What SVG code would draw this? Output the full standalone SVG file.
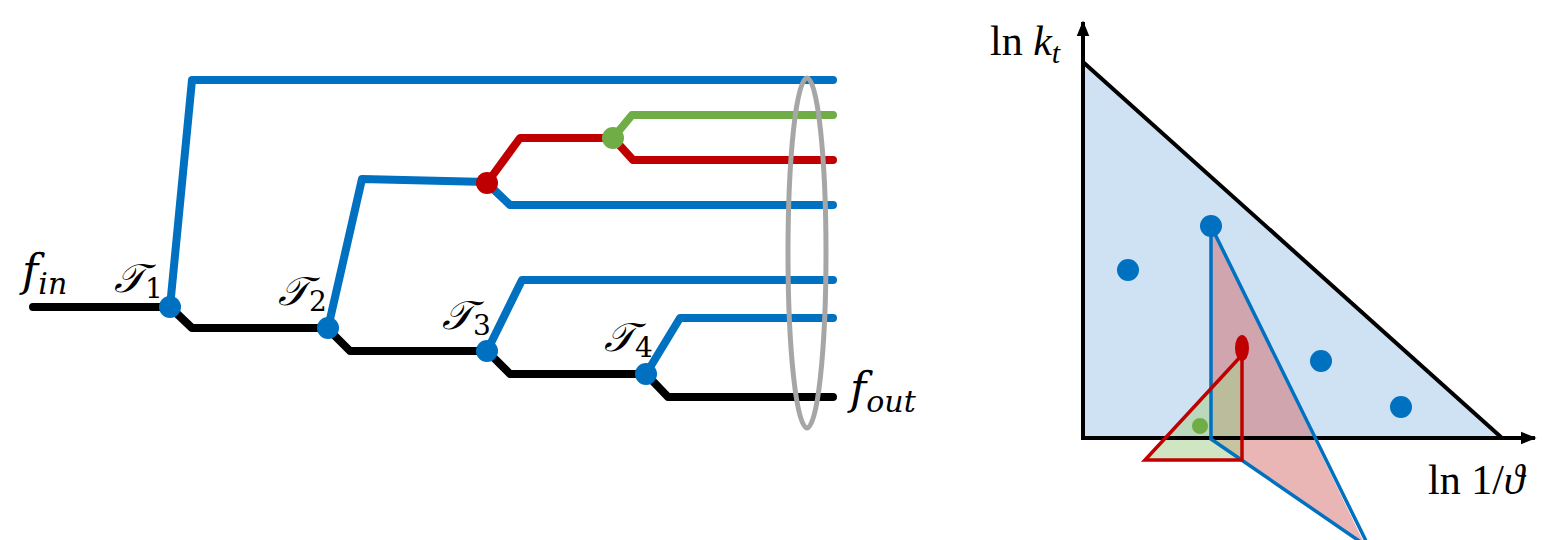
<svg xmlns="http://www.w3.org/2000/svg" width="1546" height="540" viewBox="0 0 1546 540">
<defs>
<style>
.ln{fill:none;stroke-width:8;stroke-linecap:round;stroke-linejoin:round}
.bk{stroke:#000}
.bl{stroke:#0070c0}
.rd{stroke:#c00000}
.gr{stroke:#70ad47}
.t{font-family:"DejaVu Serif","Liberation Serif",serif;font-style:italic;fill:#000}
.m{font-family:"Liberation Serif","DejaVu Serif",serif;fill:#000}
</style>
<marker id="ah" viewBox="0 0 10 10" refX="9" refY="5" markerWidth="4" markerHeight="4" orient="auto" markerUnits="strokeWidth"><path d="M0,1 L10,5 L0,9 z" fill="#000"/></marker>
</defs>
<g id="connectors">
<path class="ln bk" d="M33,307 H170 L192,328 H327 L350,351 H487 L510,374 H646 L668,397 H833"/>
<path class="ln bl" d="M170,307 L192,80 H833"/>
<path class="ln bl" d="M328,328 L362,179 L487,182"/>
<path class="ln bl" d="M487,183 L510,205 H833"/>
<path class="ln rd" d="M487,183 L520,138 H612"/>
<path class="ln gr" d="M613,138 L632,115 H833"/>
<path class="ln rd" d="M613,138 L633,160 H833"/>
<path class="ln bl" d="M487,351 L522,280 H833"/>
<path class="ln bl" d="M646,374 L680,318 H833"/>
</g>
<g id="ellipse"><ellipse cx="807" cy="253" rx="19" ry="175" fill="none" stroke="#a6a6a6" stroke-width="5"/></g>
<g id="T1"><circle cx="170" cy="307" r="11" fill="#0070c0"/><text class="t" x="114" y="292" font-size="40">𝒯<tspan font-style="normal" font-size="28" dy="6">1</tspan></text></g>
<g id="T2"><circle cx="328" cy="328" r="11" fill="#0070c0"/><text class="t" x="278" y="305" font-size="40">𝒯<tspan font-style="normal" font-size="28" dy="6">2</tspan></text></g>
<g id="T3"><circle cx="487" cy="351" r="11" fill="#0070c0"/><text class="t" x="442" y="329" font-size="40">𝒯<tspan font-style="normal" font-size="28" dy="6">3</tspan></text></g>
<g id="T4"><circle cx="646" cy="374" r="11" fill="#0070c0"/><text class="t" x="604" y="351" font-size="40">𝒯<tspan font-style="normal" font-size="28" dy="6">4</tspan></text></g>
<g id="redNode"><circle cx="487" cy="183" r="11" fill="#c00000"/></g>
<g id="greenNode"><circle cx="613" cy="138" r="11" fill="#70ad47"/></g>
<g id="fin"><text class="t" x="22" y="286" font-size="44">f<tspan font-size="30" dy="8">in</tspan></text></g>
<g id="fout"><text class="t" x="850" y="404" font-size="44">f<tspan font-size="30" dy="8">out</tspan></text></g>
<g id="plot">
<polygon points="1083,62 1083,438 1502,438" fill="#cfe2f3"/>
<line x1="1083" y1="62" x2="1502" y2="438" stroke="#000" stroke-width="4"/>
<polygon points="1211,226 1211,439 1365,545" fill="#d05a5a" fill-opacity="0.45"/>
<polygon points="1242,355 1145,460 1242,460" fill="#a9d08e" fill-opacity="0.55"/>
<line x1="1083" y1="440" x2="1083" y2="22" stroke="#000" stroke-width="4" marker-end="url(#ah)"/>
<line x1="1081" y1="438" x2="1535" y2="438" stroke="#000" stroke-width="4" marker-end="url(#ah)"/>
<path d="M1211,226 V439 L1365,545 M1211,226 L1368,545" fill="none" stroke="#0070c0" stroke-width="3.5"/>
<path d="M1242,355 L1145,460 H1242 V350" fill="none" stroke="#c00000" stroke-width="3.5"/>
<ellipse cx="1242" cy="348" rx="7" ry="13" fill="#c00000"/>
<circle cx="1200" cy="426" r="8" fill="#70ad47"/>
<circle cx="1128" cy="270" r="11" fill="#0070c0"/>
<circle cx="1211" cy="226" r="11" fill="#0070c0"/>
<circle cx="1321" cy="361" r="11" fill="#0070c0"/>
<circle cx="1401" cy="407" r="11" fill="#0070c0"/>
<text class="m" x="990" y="55" font-size="42">ln <tspan font-style="italic">k</tspan><tspan font-style="italic" font-size="30" dy="8">t</tspan></text>
<text class="m" x="1428" y="494" font-size="42">ln 1/<tspan font-style="italic">ϑ</tspan></text>
</g>
</svg>
